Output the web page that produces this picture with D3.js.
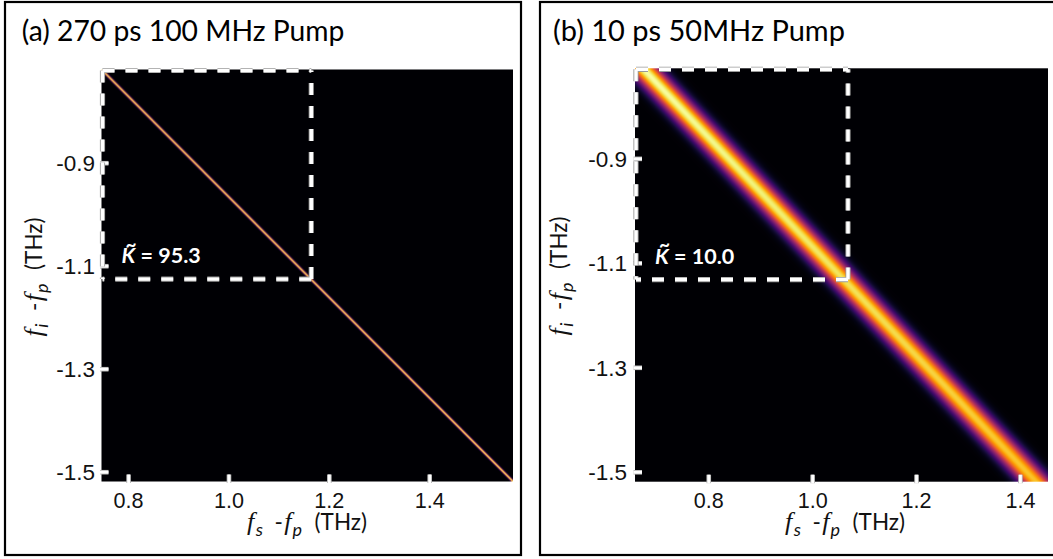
<!DOCTYPE html>
<html>
<head>
<meta charset="utf-8">
<script src="https://cdn.jsdelivr.net/npm/d3@7"></script>
<style>
  html, body { margin: 0; padding: 0; background: #fff; }
  svg { display: block; font-family: Lato, "Open Sans", "Noto Sans", sans-serif; }
</style>
</head>
<body>
<svg id="chart" width="1053" height="559"></svg>
<script>
// ---------------- data ----------------
const panelTitles = ["(a) 270 ps 100 MHz Pump", "(b) 10 ps 50MHz Pump"];
const kappaValues = ["95.3", "10.0"];

const xTickValues = [0.8, 1.0, 1.2, 1.4];
const xTickLabels = ["0.8", "1.0", "1.2", "1.4"];
const yTickValues = [-0.9, -1.1, -1.3, -1.5];
const yTickLabels = ["-0.9", "-1.1", "-1.3", "-1.5"];

// signal / idler frequency windows (THz)
const fsDomainA = [0.747, 1.567];
const fiDomainA = [-0.719, -1.519];
const fsDomainB = [0.659, 1.454];
const fiDomainB = [-0.7276, -1.519];

// ridge of the joint spectral intensity: fs and relative peak height
// at the two ends of the fi window
const ridgeFsA = [0.747, 1.567];
const ridgeFiA = [-0.719, -1.519];
const ridgePeakA = [1.0, 1.0];
const ridgeFsB = [0.674, 1.431];
const ridgeFiB = [-0.7276, -1.519];
const ridgePeakB = [1.0, 0.86];

// spread across the ridge (THz, standard deviation along fs)
const ridgeWidthA = 0.0021;
const ridgeWidthB = 0.021;

// lower-right corner of the dashed sub-window (fs, fi)
const windowCornerA = [1.165, -1.126];
const windowCornerB = [1.069, -1.132];

// ---------------- layout ----------------
const panels = [
  {
    title: panelTitles[0], kappa: kappaValues[0],
    frame: { x: 5, y: 2, w: 516, h: 553 },
    plot: { l: 101.5, r: 513, t: 69.5, b: 481.5 },
    fsDomain: fsDomainA, fiDomain: fiDomainA,
    ridgeFs: ridgeFsA, ridgeFi: ridgeFiA, ridgePeak: ridgePeakA, width: ridgeWidthA, ss: 5,
    corner: windowCornerA,
    titleX: 21.7, titleW: 323, yLabelGap: 6.5, xTitleX: 307, yTitleX: 42, yTitleY: 277
  },
  {
    title: panelTitles[1], kappa: kappaValues[1],
    frame: { x: 540, y: 2, w: 516, h: 553 },
    plot: { l: 635, r: 1048, t: 68.3, b: 481.7 },
    fsDomain: fsDomainB, fiDomain: fiDomainB,
    ridgeFs: ridgeFsB, ridgeFi: ridgeFiB, ridgePeak: ridgePeakB, width: ridgeWidthB, ss: 2,
    corner: windowCornerB,
    titleX: 553, titleW: 292, yLabelGap: 8, xTitleX: 845, yTitleX: 567, yTitleY: 276
  }
];

const svg = d3.select("#chart");
const lut = d3.range(256).map(i => d3.rgb(d3.interpolateInferno(i / 255)));

// Raster of the joint spectral intensity, rendered with supersampling
function spectrumImage(x, y, p) {
  const [x0, x1] = x.range(), [y0, y1] = y.range();
  const w = Math.round(x1 - x0), h = Math.round(y1 - y0);
  const ridge = d3.scaleLinear().domain(p.ridgeFi).range(p.ridgeFs);
  const peak = d3.scaleLinear().domain(p.ridgeFi).range(p.ridgePeak);
  const canvas = document.createElement("canvas");
  canvas.width = w; canvas.height = h;
  const ctx = canvas.getContext("2d");
  const img = ctx.createImageData(w, h);
  const ss = p.ss, n = ss * ss, s2 = 2 * p.width * p.width;
  const sx = (x1 - x0) / w, sy = (y1 - y0) / h;
  for (let py = 0; py < h; py++) {
    for (let px = 0; px < w; px++) {
      let r = 0, g = 0, b = 0;
      for (let j = 0; j < ss; j++) {
        const fi = y.invert(y0 + (py + (j + 0.5) / ss) * sy);
        const fc = ridge(fi), a = peak(fi);
        for (let i = 0; i < ss; i++) {
          const fs = x.invert(x0 + (px + (i + 0.5) / ss) * sx);
          const d = fs - fc;
          const v = a * Math.exp(-d * d / s2);
          const c = lut[Math.round(v * 255)];
          r += c.r; g += c.g; b += c.b;
        }
      }
      const k = (py * w + px) * 4;
      img.data[k] = r / n; img.data[k + 1] = g / n; img.data[k + 2] = b / n; img.data[k + 3] = 255;
    }
  }
  ctx.putImageData(img, 0, 0);
  return canvas.toDataURL();
}

// scale a plain text's font so that it spans the given width
function fitWidth(sel, target) {
  const fs = parseFloat(sel.attr("font-size"));
  const k = target / sel.node().getComputedTextLength();
  sel.attr("font-size", fs * k);
  return fs * k;
}

// squeeze a text horizontally to a given width, keeping its height
function squeeze(sel, target) {
  const wNow = sel.node().getComputedTextLength();
  if (wNow > target) sel.attr("textLength", target).attr("lengthAdjust", "spacingAndGlyphs");
  return sel;
}

// white tick marks with a light outline
function styleTicks(axisG, dir) {
  axisG.select(".domain").remove();
  axisG.selectAll(".tick").each(function () {
    const t = d3.select(this);
    const ln = t.select("line");
    if (dir === "x") ln.attr("y1", 1.5); else ln.attr("x1", -1.5);
    t.insert("line", "line")
      .attr("x1", ln.attr("x1") || 0).attr("x2", ln.attr("x2") || 0)
      .attr("y1", ln.attr("y1") || 0).attr("y2", ln.attr("y2") || 0)
      .attr("stroke", "#b8b8b8").attr("stroke-width", 4.6);
    ln.attr("stroke", "#fff").attr("stroke-width", 2.8);
  });
}

// "f_sub -f_p (THz)" with italic symbols and lowered subscripts
function axisTitle(g, sub, width) {
  const t = g.append("text").attr("font-size", 22.5).attr("fill", "#111");
  const fFont = "'Liberation Serif', 'DejaVu Serif', serif";
  const shift = 6;
  const parts = [
    { text: "f", italic: true, size: 26, font: fFont, dx: 0, dy: 0 },
    { text: sub, italic: true, size: 18, dx: 1.5, dy: shift },
    { text: "-", size: 22.5, dx: 4, dy: -shift, gap: true },
    { text: "f", italic: true, size: 26, font: fFont, dx: 1.5, dy: 0 },
    { text: "p", italic: true, size: 18, dx: 1, dy: shift },
    { text: "(THz)", size: 22.5, dx: 5, dy: -shift, gap: true }
  ];
  const spans = t.selectAll("tspan").data(parts).join("tspan")
    .attr("font-style", d => d.italic ? "italic" : null)
    .attr("font-family", d => d.font || null)
    .attr("font-size", d => d.size)
    .attr("dx", d => d.dx).attr("dy", d => d.dy)
    .text(d => d.text);
  const extra = width - t.node().getBBox().width;
  if (extra > 0) {
    // spread the extra room over the gaps between the symbols
    spans.filter(d => d.gap).attr("dx", d => d.dx + extra / 2);
  }
  return t;
}

panels.forEach(p => {
  const g = svg.append("g");
  const x = d3.scaleLinear().domain(p.fsDomain).range([p.plot.l, p.plot.r]);
  const y = d3.scaleLinear().domain(p.fiDomain).range([p.plot.t, p.plot.b]);

  // frame
  g.append("rect")
    .attr("x", p.frame.x).attr("y", p.frame.y)
    .attr("width", p.frame.w).attr("height", p.frame.h)
    .attr("fill", "none").attr("stroke", "#000").attr("stroke-width", 2.2);

  // title
  const title = g.append("text")
    .attr("x", p.titleX).attr("y", 40.5)
    .attr("font-size", 27).attr("fill", "#000")
    .text(p.title);
  fitWidth(title, p.titleW);

  // spectrum
  g.append("image")
    .attr("x", p.plot.l).attr("y", p.plot.t)
    .attr("width", p.plot.r - p.plot.l).attr("height", p.plot.b - p.plot.t)
    .attr("preserveAspectRatio", "none")
    .attr("href", spectrumImage(x, y, p));

  // axes
  const xAxis = g.append("g")
    .attr("transform", `translate(0,${p.plot.b})`)
    .call(d3.axisBottom(x).tickValues(xTickValues)
      .tickFormat((d, i) => xTickLabels[i]).tickSize(-7));
  const yAxis = g.append("g")
    .attr("transform", `translate(${p.plot.l},0)`)
    .call(d3.axisLeft(y).tickValues(yTickValues)
      .tickFormat((d, i) => yTickLabels[i]).tickSize(-7));
  styleTicks(xAxis, "x");
  styleTicks(yAxis, "y");

  xAxis.selectAll("text")
    .attr("y", 26.5).attr("dy", null).attr("font-size", 22.5)
    .attr("fill", "#111").attr("font-family", null);
  yAxis.selectAll("text")
    .attr("x", -p.yLabelGap).attr("dy", "0.36em").attr("font-size", 22.5)
    .attr("fill", "#111").attr("font-family", null);
  xAxis.selectAll("text").each(function () { squeeze(d3.select(this), 30); });
  yAxis.selectAll("text").each(function () { squeeze(d3.select(this), 40); });

  // axis titles
  axisTitle(g, "s", 120).attr("text-anchor", "middle")
    .attr("x", p.xTitleX).attr("y", 530);

  axisTitle(g, "i", 119).attr("text-anchor", "middle")
    .attr("transform", `translate(${p.yTitleX},${p.yTitleY}) rotate(-90)`);

  // dashed sub-window
  const cx = x(p.corner[0]), cy = y(p.corner[1]);
  const l = p.plot.l + 1, t = p.plot.t + 1;
  const edges = [
    [[cx, cy], [cx, t]],
    [[cx, cy], [l, cy]],
    [[l, t], [cx, t]],
    [[l, t], [l, cy]]
  ];
  const line = d3.line();
  [["#9a9a9a", 5.2], ["#fff", 3.4]].forEach(([col, sw]) => {
    g.selectAll(null).data(edges).join("path")
      .attr("d", line)
      .attr("fill", "none")
      .attr("stroke", col).attr("stroke-width", sw)
      .attr("stroke-dasharray", "12,11");
  });

  // K label with tilde over the K
  const kx = p.plot.l + 20, ky = cy - 16;
  const kt = g.append("text")
    .attr("x", kx).attr("y", ky)
    .attr("font-size", 21.5).attr("font-weight", 700).attr("fill", "#fff");
  kt.append("tspan").attr("font-style", "italic").text("K");
  kt.append("tspan").text(" = " + p.kappa);
  squeeze(kt, 81);
  const kw = kt.node().getExtentOfChar(0).width;
  g.append("text")
    .attr("x", kx + kw / 2 + 2.5).attr("y", ky - 12.5)
    .attr("text-anchor", "middle")
    .attr("font-size", 19).attr("font-weight", 700).attr("fill", "#fff")
    .text("~");
});
</script>
</body>
</html>
